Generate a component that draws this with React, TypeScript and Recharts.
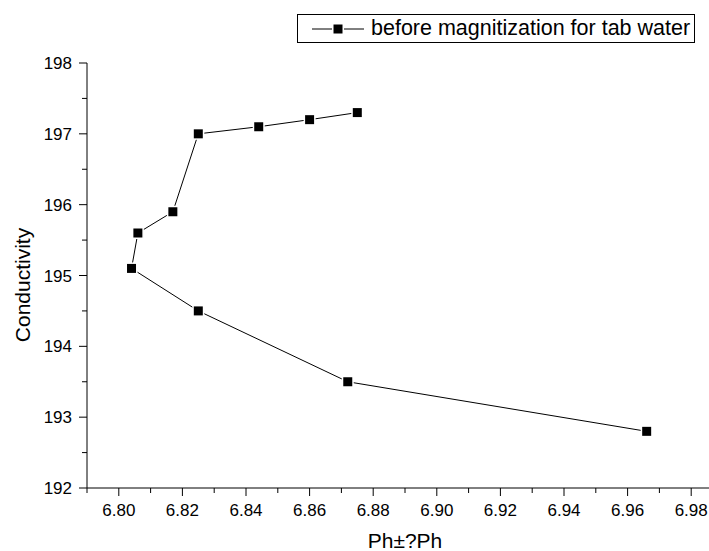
import React from "react";
import { ScatterChart, Scatter, XAxis, YAxis } from "recharts";

const phValues = [6.875, 6.86, 6.844, 6.825, 6.817, 6.806, 6.804, 6.825, 6.872, 6.966];
const conductivity = [197.3, 197.2, 197.1, 197.0, 195.9, 195.6, 195.1, 194.5, 193.5, 192.8];
const xTickValues = [6.79, 6.8, 6.81, 6.82, 6.83, 6.84, 6.85, 6.86, 6.87, 6.88, 6.89, 6.9, 6.91, 6.92, 6.93, 6.94, 6.95, 6.96, 6.97, 6.98, 6.99];
const xMajorLabels = ["6.80", "6.82", "6.84", "6.86", "6.88", "6.90", "6.92", "6.94", "6.96", "6.98"];
const yTickValues = [192, 192.5, 193, 193.5, 194, 194.5, 195, 195.5, 196, 196.5, 197, 197.5, 198];
const seriesName = "before magnitization for tab water";
const xTitle = "Ph±?Ph";
const yTitle = "Conductivity";

const data = phValues.map((x, i) => ({ x, y: conductivity[i] }));

const FONT = "'Liberation Sans', Arial, sans-serif";

const XTick = (props: any) => {
  const { x, y, payload } = props;
  const label = payload.value.toFixed(2);
  const major = xMajorLabels.includes(label);
  return (
    <g>
      <line x1={x} y1={y} x2={x} y2={y + (major ? 8 : 5)} stroke="#000" strokeWidth={1} />
      {major && (
        <text x={x} y={y + 28} textAnchor="middle" fontSize={17} fontFamily={FONT} fill="#000">
          {label}
        </text>
      )}
    </g>
  );
};

const YTick = (props: any) => {
  const { x, y, payload } = props;
  const v = payload.value;
  const major = Number.isInteger(v);
  return (
    <g>
      <line x1={x} y1={y} x2={x - (major ? 8 : 5)} y2={y} stroke="#000" strokeWidth={1} />
      {major && (
        <text x={x - 15} y={y + 6} textAnchor="end" fontSize={17} fontFamily={FONT} fill="#000">
          {v}
        </text>
      )}
    </g>
  );
};

const XTitle = (props: any) => {
  const vb = props.viewBox || {};
  return (
    <text x={vb.x + vb.width / 2} y={548} textAnchor="middle" fontSize={21} fontFamily={FONT} fill="#000">
      {xTitle}
    </text>
  );
};

const YTitle = () => (
  <text
    x={0}
    y={0}
    transform="translate(30, 285) rotate(-90)"
    textAnchor="middle"
    fontSize={21}
    fontFamily={FONT}
    fill="#000"
  >
    {yTitle}
  </text>
);

const Square = (props: any) => {
  const { cx, cy } = props;
  return <rect x={cx - 5.25} y={cy - 5.25} width={10.5} height={10.5} fill="#000" stroke="#fff" strokeWidth={1.5} />;
};

export default function App() {
  return (
    <div
      style={{
        position: "absolute",
        left: 0,
        top: 0,
        width: 709,
        height: 551,
        overflow: "hidden",
        background: "#fff",
      }}
    >
      <ScatterChart width={740} height={551} margin={{ top: 63, right: 17, bottom: 33, left: 27 }}>
        <XAxis
          type="number"
          dataKey="x"
          domain={[6.79, 6.99]}
          ticks={xTickValues}
          interval={0}
          allowDataOverflow
          height={30}
          tickSize={0}
          tickMargin={0}
          tickLine={false}
          axisLine={{ stroke: "#000", strokeWidth: 1 }}
          tick={<XTick />}
          label={<XTitle />}
        />
        <YAxis
          type="number"
          dataKey="y"
          domain={[192, 198]}
          ticks={yTickValues}
          interval={0}
          allowDataOverflow
          width={60}
          tickSize={0}
          tickMargin={0}
          tickLine={false}
          axisLine={{ stroke: "#000", strokeWidth: 1 }}
          tick={<YTick />}
          label={<YTitle />}
        />
        <Scatter
          name={seriesName}
          data={data}
          fill="#000"
          line={{ stroke: "#000", strokeWidth: 1 }}
          lineType="joint"
          shape={<Square />}
          isAnimationActive={false}
        />
      </ScatterChart>
      <div
        style={{
          position: "absolute",
          left: 297,
          top: 14,
          width: 398,
          height: 29,
          boxSizing: "border-box",
          border: "1px solid #000",
          background: "#fff",
          display: "flex",
          alignItems: "center",
          paddingLeft: 14,
          fontFamily: FONT,
          fontSize: 21.5,
          lineHeight: "25px",
          color: "#000",
          whiteSpace: "nowrap",
          overflow: "hidden",
        }}
      >
        <svg width={52} height={20} style={{ marginRight: 7, flex: "none" }}>
          <line x1={0} y1={10} x2={52} y2={10} stroke="#000" strokeWidth={1} />
          <rect x={20.75} y={4.75} width={10.5} height={10.5} fill="#000" stroke="#fff" strokeWidth={1.5} />
        </svg>
        <span>{seriesName}</span>
      </div>
    </div>
  );
}
